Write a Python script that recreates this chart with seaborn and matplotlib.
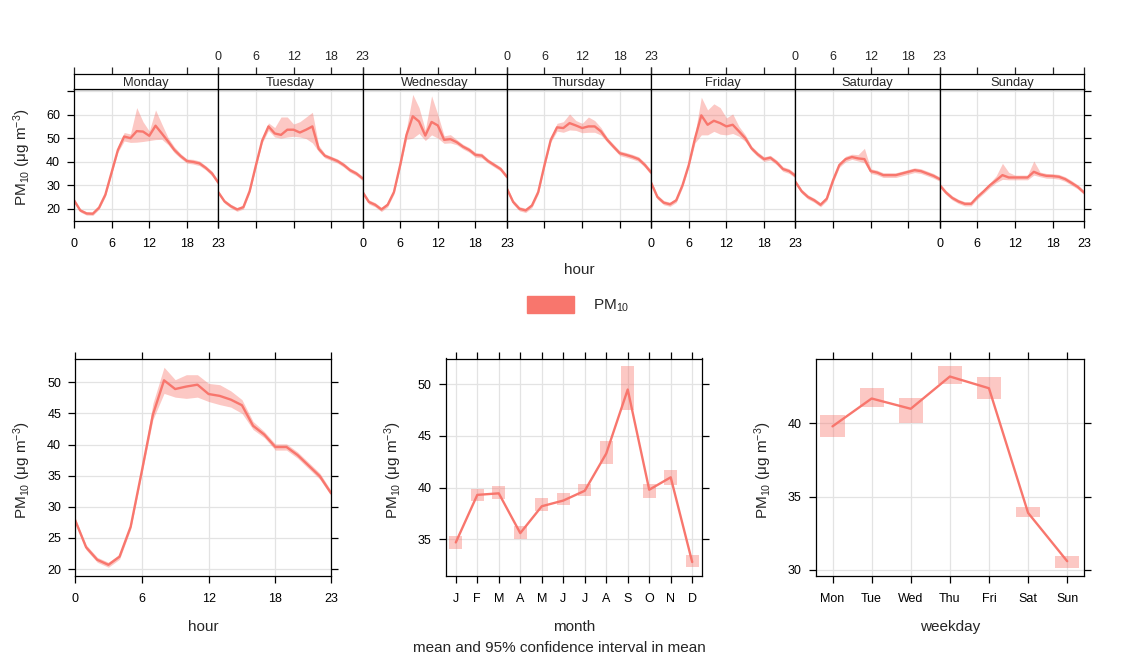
import matplotlib
matplotlib.use("Agg")
import matplotlib.pyplot as plt
from matplotlib.patches import Patch
import seaborn as sns

# hourly mean PM10 by day of week, with 95% CI
days = ["Monday", "Tuesday", "Wednesday", "Thursday", "Friday", "Saturday", "Sunday"]
hours = list(range(24))

mon = [23.6, 19.3, 18.0, 17.9, 20.5, 26.0, 35.5, 45.0, 50.7, 50.0, 53.0, 52.8,
       51.0, 55.3, 52.0, 48.6, 45.0, 42.4, 40.3, 39.9, 39.3, 37.4, 35.0, 31.1]
mon_lo = [22.8, 18.6, 17.3, 17.2, 19.8, 25.2, 34.6, 44.0, 48.8, 48.2, 48.3, 48.6,
          49.0, 49.4, 49.5, 47.2, 43.8, 41.4, 39.4, 39.0, 38.3, 36.5, 34.0, 30.2]
mon_hi = [24.4, 20.0, 18.7, 18.6, 21.2, 26.8, 36.4, 46.6, 52.4, 51.8, 63.0, 57.0,
          53.0, 62.0, 56.0, 50.2, 46.3, 43.4, 41.2, 41.0, 40.3, 38.3, 36.0, 32.0]

tue = [27.0, 23.1, 21.1, 19.7, 20.7, 27.5, 38.5, 49.0, 55.0, 52.0, 51.4, 53.6,
       53.6, 52.4, 53.6, 55.0, 45.5, 42.5, 41.4, 40.3, 38.6, 36.4, 35.0, 32.9]
tue_lo = [26.2, 22.3, 20.3, 18.9, 19.9, 26.6, 37.5, 48.0, 53.3, 50.5, 50.0, 50.5,
          50.8, 50.5, 49.8, 48.0, 44.3, 41.6, 40.5, 39.4, 37.7, 35.5, 34.1, 32.0]
tue_hi = [27.8, 23.9, 21.9, 20.5, 21.5, 28.4, 39.5, 50.0, 56.5, 54.5, 59.0, 59.0,
          56.0, 57.0, 59.0, 61.0, 47.0, 43.4, 42.3, 41.2, 39.5, 37.3, 35.9, 33.8]

wed = [27.1, 22.9, 21.7, 19.7, 21.7, 27.1, 38.6, 51.4, 59.3, 57.1, 51.1, 56.9,
       55.4, 49.3, 49.6, 48.3, 46.4, 45.0, 42.9, 42.6, 40.3, 38.6, 36.9, 33.6]
wed_lo = [26.2, 22.0, 20.8, 18.8, 20.8, 26.2, 37.6, 49.5, 50.0, 52.0, 49.0, 51.4,
          50.0, 47.8, 48.0, 47.2, 45.4, 44.0, 41.9, 41.6, 39.4, 37.7, 36.0, 32.7]
wed_hi = [28.0, 23.8, 22.6, 20.6, 22.6, 28.0, 39.6, 54.0, 68.6, 63.0, 53.5, 68.0,
          60.0, 51.0, 51.5, 49.4, 47.4, 46.0, 43.9, 43.6, 41.2, 39.5, 37.8, 34.5]

thu = [28.6, 22.9, 20.0, 19.3, 21.4, 27.1, 38.6, 49.3, 54.6, 54.3, 56.4, 55.4,
       54.3, 55.0, 55.0, 52.9, 49.3, 46.4, 43.6, 42.9, 42.1, 41.1, 38.6, 35.4]
thu_lo = [27.7, 22.0, 19.1, 18.4, 20.5, 26.2, 37.6, 48.3, 53.0, 52.5, 53.5, 53.3,
          52.3, 52.5, 52.5, 51.3, 48.3, 45.4, 42.6, 41.9, 41.1, 40.1, 37.6, 34.4]
thu_hi = [29.5, 23.8, 20.9, 20.2, 22.3, 28.0, 39.6, 50.3, 56.3, 57.0, 60.3, 57.5,
          56.3, 59.0, 57.5, 54.5, 50.3, 47.4, 44.6, 43.9, 43.1, 42.1, 39.6, 36.4]

fri = [31.0, 25.0, 22.6, 21.9, 23.6, 30.0, 38.6, 50.0, 59.7, 55.7, 57.4, 56.4,
       55.0, 55.7, 52.9, 50.0, 45.7, 43.1, 41.1, 41.7, 39.7, 36.9, 36.0, 34.0]
fri_lo = [30.0, 24.1, 21.7, 21.0, 22.7, 29.0, 37.6, 48.0, 51.4, 51.4, 52.9, 51.7,
          51.4, 52.0, 50.8, 48.6, 44.7, 42.1, 40.1, 40.7, 38.7, 35.9, 35.0, 33.0]
fri_hi = [32.0, 25.9, 23.5, 22.8, 24.5, 31.0, 39.6, 52.0, 67.4, 62.0, 64.6, 63.0,
          58.6, 60.3, 55.0, 51.5, 46.7, 44.1, 42.1, 42.7, 40.7, 37.9, 37.0, 35.0]

sat = [31.4, 27.4, 25.0, 23.6, 21.7, 24.3, 32.1, 38.6, 41.1, 42.0, 41.4, 41.1,
       36.0, 35.4, 34.3, 34.3, 34.3, 35.0, 35.7, 36.4, 36.0, 35.0, 34.0, 32.6]
sat_lo = [30.5, 26.5, 24.1, 22.7, 20.8, 23.4, 31.1, 37.6, 40.0, 41.0, 40.3, 39.5,
          35.0, 34.4, 33.3, 33.3, 33.3, 34.0, 34.7, 35.4, 35.0, 34.0, 33.0, 31.7]
sat_hi = [32.3, 28.3, 25.9, 24.5, 22.6, 25.2, 33.1, 39.6, 42.3, 43.2, 43.0, 45.7,
          37.0, 36.4, 35.3, 35.3, 35.3, 36.0, 36.7, 37.4, 37.0, 36.0, 35.0, 33.5]

sun = [30.0, 26.9, 24.6, 23.1, 22.1, 22.1, 25.0, 27.4, 30.0, 32.1, 34.3, 33.3,
       33.3, 33.3, 33.3, 35.7, 34.6, 34.0, 33.9, 33.6, 32.6, 31.0, 29.3, 26.9]
sun_lo = [29.1, 26.0, 23.7, 22.2, 21.2, 21.2, 24.1, 26.5, 29.0, 31.1, 32.5, 32.3,
          32.3, 32.3, 32.3, 34.3, 33.6, 33.0, 32.9, 32.6, 31.6, 30.0, 28.4, 26.0]
sun_hi = [30.9, 27.8, 25.5, 24.0, 23.0, 23.0, 25.9, 28.3, 31.0, 34.0, 39.3, 35.5,
          34.3, 34.3, 34.3, 40.3, 35.6, 35.0, 34.9, 34.6, 33.6, 32.0, 30.2, 27.8]

# overall hour of day
hour_mean = [27.9, 23.5, 21.5, 20.7, 22.0, 26.8, 35.7, 44.8, 50.3, 48.9, 49.3, 49.6,
             48.1, 47.8, 47.2, 46.3, 43.0, 41.6, 39.6, 39.6, 38.3, 36.6, 34.9, 32.2]
hour_lo = [27.5, 23.1, 21.1, 20.3, 21.6, 26.4, 35.2, 44.0, 48.2, 47.6, 47.4, 47.6,
           46.9, 46.4, 46.0, 45.0, 42.4, 41.1, 39.1, 39.1, 37.8, 36.1, 34.4, 31.8]
hour_hi = [28.3, 23.9, 21.9, 21.1, 22.4, 27.2, 36.2, 46.6, 52.4, 50.4, 51.2, 51.2,
           49.8, 49.6, 48.6, 47.2, 43.7, 42.1, 40.1, 40.1, 38.8, 37.1, 35.4, 32.6]

# month
months = list(range(1, 13))
month_labels = ["J", "F", "M", "A", "M", "J", "J", "A", "S", "O", "N", "D"]
month_mean = [34.7, 39.3, 39.45, 35.6, 38.2, 38.75, 39.7, 43.3, 49.5, 39.8, 41.0, 32.8]
month_lo = [34.06, 38.7, 38.9, 35.0, 37.7, 38.3, 39.2, 42.3, 47.5, 39.0, 40.3, 32.3]
month_hi = [35.35, 39.9, 40.2, 36.3, 39.0, 39.45, 40.4, 44.5, 51.8, 40.4, 41.7, 33.5]

# weekday
wdays = list(range(1, 8))
wday_labels = ["Mon", "Tue", "Wed", "Thu", "Fri", "Sat", "Sun"]
wday_mean = [39.8, 41.7, 41.0, 43.2, 42.4, 33.9, 30.6]
wday_lo = [39.1, 41.1, 40.05, 42.7, 41.7, 33.6, 30.16]
wday_hi = [40.6, 42.4, 41.75, 43.9, 43.2, 34.3, 30.95]

day_mean = [mon, tue, wed, thu, fri, sat, sun]
day_lo = [mon_lo, tue_lo, wed_lo, thu_lo, fri_lo, sat_lo, sun_lo]
day_hi = [mon_hi, tue_hi, wed_hi, thu_hi, fri_hi, sat_hi, sun_hi]

sns.set_style("white")
plt.rcParams["font.family"] = ["Liberation Sans", "DejaVu Sans"]
plt.rcParams["mathtext.fontset"] = "custom"
plt.rcParams["mathtext.rm"] = "Liberation Sans"
plt.rcParams["mathtext.it"] = "Liberation Sans:italic"
plt.rcParams["axes.edgecolor"] = "black"
plt.rcParams["axes.linewidth"] = 0.9

col = "#F8766D"
grid_col = "#E3E3E3"
ylab = "PM$_{10}$ (μg m$^{-3}$)"
lab_fs = 11
W, H = 1123, 664


def fx(px):
    return px / W


def fy(px):
    return 1 - px / H


def style_ticks(ax):
    ax.tick_params(direction="out", length=5, width=0.9, pad=5, labelsize=9,
                   colors="black")
    ax.grid(True, color=grid_col, lw=0.9)
    ax.set_axisbelow(True)
    for s in ax.spines.values():
        s.set_color("black")
        s.set_linewidth(0.9)


fig = plt.figure(figsize=(W / 100, H / 100), dpi=100)

# ---- top: hour x day panels
pw = (1084 - 74) / 7
for i, day in enumerate(days):
    left = 74 + i * pw
    ax = fig.add_axes([fx(left), fy(221), fx(pw), (221 - 89) / H])
    ax.fill_between(hours, day_lo[i], day_hi[i], color=col, alpha=0.4, lw=0)
    sns.lineplot(x=hours, y=day_mean[i], ax=ax, color=col, lw=1.7)
    ax.set_xlim(0, 23)
    ax.set_ylim(14.8, 70.9)
    ax.set_xticks([0, 6, 12, 18, 23])
    ax.set_yticks([20, 30, 40, 50, 60, 70])
    style_ticks(ax)
    ax.tick_params(axis="x", pad=7)
    ax.set_yticklabels(["20", "30", "40", "50", "60", ""])
    ax.tick_params(axis="x", bottom=True, labelbottom=(i % 2 == 0))
    ax.tick_params(axis="y", left=(i == 0), labelleft=(i == 0), right=(i == 6),
                   labelright=False)
    ax.set_xlabel("")
    ax.set_ylabel("")

    # strip with the day name, top ticks sit above it
    sax = fig.add_axes([fx(left), fy(89), fx(pw), (89 - 74) / H])
    sax.set_xlim(0, 23)
    sax.set_xticks([0, 6, 12, 18, 23])
    sax.set_yticks([])
    sax.set_facecolor("white")
    for s in sax.spines.values():
        s.set_color("black")
        s.set_linewidth(0.9)
    sax.tick_params(axis="x", direction="out", length=5, width=0.9, pad=3,
                    labelsize=9, top=True, bottom=False,
                    labeltop=(i % 2 == 1), labelbottom=False)
    sax.text(0.5, 0.42, day, transform=sax.transAxes, ha="center", va="center",
             fontsize=9.3)

fig.text(fx(22), fy(157), ylab, rotation=90, ha="center", va="center", fontsize=lab_fs)
fig.text(fx(579), fy(270), "hour", ha="center", va="center", fontsize=lab_fs)
fig.legend(handles=[Patch(color=col, label="PM$_{10}$")], loc="center",
           bbox_to_anchor=(fx(578), fy(305)), frameon=False, fontsize=lab_fs,
           handlelength=3.1, handleheight=1.35, handletextpad=1.2)

# ---- bottom left: hour
ax1 = fig.add_axes([fx(75), fy(576), fx(331 - 75), (576 - 358.5) / H])
ax1.fill_between(hours, hour_lo, hour_hi, color=col, alpha=0.4, lw=0)
sns.lineplot(x=hours, y=hour_mean, ax=ax1, color=col, lw=1.7)
ax1.set_xlim(0, 23)
ax1.set_ylim(18.9, 53.8)
ax1.set_xticks([0, 6, 12, 18, 23])
ax1.set_yticks([20, 25, 30, 35, 40, 45, 50])
style_ticks(ax1)
ax1.tick_params(axis="x", top=True, bottom=True, pad=7)
ax1.tick_params(axis="y", left=True, right=True)
ax1.set_xlabel("hour", fontsize=lab_fs, labelpad=11)
ax1.set_ylabel("")
fig.text(fx(22), fy(470), ylab, rotation=90, ha="center", va="center", fontsize=lab_fs)

# ---- bottom middle: month
ax2 = fig.add_axes([fx(445.7), fy(576), fx(702.3 - 445.7), (576 - 358.5) / H])
ax2.bar(months, [h - l for h, l in zip(month_hi, month_lo)], bottom=month_lo,
        width=0.6, color=col, alpha=0.4, lw=0)
sns.lineplot(x=months, y=month_mean, ax=ax2, color=col, lw=1.7)
ax2.set_xlim(0.53, 12.47)
ax2.set_ylim(31.45, 52.5)
ax2.set_xticks(months)
ax2.set_xticklabels(month_labels)
ax2.set_yticks([35, 40, 45, 50])
style_ticks(ax2)
ax2.tick_params(axis="x", top=True, bottom=True, pad=7)
ax2.tick_params(axis="y", left=True, right=True)
ax2.set_xlabel("month", fontsize=lab_fs, labelpad=11)
ax2.set_ylabel("")
fig.text(fx(393), fy(470), ylab, rotation=90, ha="center", va="center", fontsize=lab_fs)

# ---- bottom right: weekday
ax3 = fig.add_axes([fx(815.7), fy(576), fx(1084 - 815.7), (576 - 358.5) / H])
ax3.bar(wdays, [h - l for h, l in zip(wday_hi, wday_lo)], bottom=wday_lo,
        width=0.62, color=col, alpha=0.4, lw=0)
sns.lineplot(x=wdays, y=wday_mean, ax=ax3, color=col, lw=1.7)
ax3.set_xlim(0.57, 7.43)
ax3.set_ylim(29.59, 44.43)
ax3.set_xticks(wdays)
ax3.set_xticklabels(wday_labels)
ax3.set_yticks([30, 35, 40])
style_ticks(ax3)
ax3.tick_params(axis="x", top=True, bottom=True, pad=7)
ax3.tick_params(axis="y", left=True, right=True)
ax3.set_xlabel("weekday", fontsize=lab_fs, labelpad=11)
ax3.set_ylabel("")
fig.text(fx(763), fy(470), ylab, rotation=90, ha="center", va="center", fontsize=lab_fs)

fig.text(fx(559), fy(648), "mean and 95% confidence interval in mean",
         ha="center", va="center", fontsize=lab_fs)

fig.savefig("out.png", dpi=100)
